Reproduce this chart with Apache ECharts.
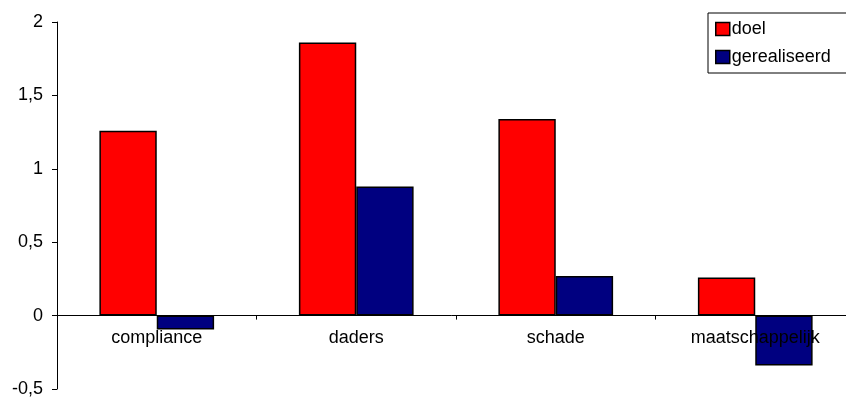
<!DOCTYPE html>
<html><head><meta charset="utf-8">
<script src="https://cdn.jsdelivr.net/npm/echarts@6/dist/echarts.min.js"></script>
<style>html,body{margin:0;padding:0;background:#fff}#c{width:846px;height:398px}</style>
</head><body><div id="c"></div>
<script>
var categories = ['compliance', 'daders', 'schade', 'maatschappelijk'];
var doel = [1.26, 1.86, 1.34, 0.26];
var gerealiseerd = [-0.095, 0.88, 0.27, -0.34];
var yTicks = [-0.5, 0, 0.5, 1, 1.5, 2];

var chart = echarts.init(document.getElementById('c'));
var font = 'Liberation Sans, Arial, sans-serif';
chart.setOption({
  animation: false,
  textStyle: {fontFamily: font},
  grid: {left: 57, right: -9, top: 22, bottom: 9, containLabel: false, outerBoundsMode: 'none'},
  legend: {
    orient: 'vertical', left: 708, top: 13,
    padding: [7, 30, 7, 7], itemGap: 10, itemWidth: 14, itemHeight: 13,
    borderColor: '#000', borderWidth: 1, backgroundColor: '#fff',
    icon: 'rect',
    textStyle: {fontSize: 18, color: '#000', fontFamily: font, padding: [0, 0, 0, -3]},
    data: [{name: 'doel', itemStyle: {borderColor: '#000', borderWidth: 1.5}},
           {name: 'gerealiseerd', itemStyle: {borderColor: '#000', borderWidth: 1.5}}]
  },
  xAxis: [{
    type: 'category', data: categories,
    axisLine: {onZero: true, lineStyle: {color: '#000', width: 1}},
    axisTick: {show: true, length: 4, lineStyle: {color: '#000'}},
    axisLabel: {show: false}
  }, {
    type: 'category', data: categories, position: 'bottom', offset: -73, z: 10,
    axisLine: {show: false, onZero: false},
    axisTick: {show: false},
    axisLabel: {fontSize: 18, color: '#000', margin: 13, fontFamily: font}
  }],
  yAxis: {
    type: 'value', min: yTicks[0], max: yTicks[yTicks.length - 1], interval: 0.5,
    splitLine: {show: false},
    axisLine: {show: true, lineStyle: {color: '#000', width: 1}},
    axisTick: {show: true, length: 5, lineStyle: {color: '#000'}},
    axisLabel: {fontSize: 18, color: '#000', margin: 14, fontFamily: font,
      formatter: function (v) { return String(v).replace('.', ','); }}
  },
  series: [
    {name: 'doel', type: 'bar', data: doel, barGap: '0%', barCategoryGap: '42.5%',
     itemStyle: {color: '#FF0000', borderColor: '#000', borderWidth: 1.5}},
    {name: 'gerealiseerd', type: 'bar', data: gerealiseerd, barGap: '0%', barCategoryGap: '42.5%',
     itemStyle: {color: '#000080', borderColor: '#000', borderWidth: 1.5}}
  ]
});
</script></body></html>
